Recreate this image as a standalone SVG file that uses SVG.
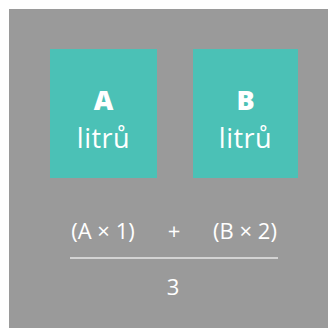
<svg xmlns="http://www.w3.org/2000/svg" width="328" height="328" viewBox="0 0 328 328">
<style>
.box{fill:#4bc1b6}
.t{fill:#ffffff;font-family:"Open Sans","Noto Sans",sans-serif;text-anchor:middle}
.big{font-size:27px;font-weight:800}
.lit{font-size:27px;letter-spacing:0.5px}
.f{font-size:22px}
</style>
<rect x="0" y="0" width="328" height="328" fill="#ffffff"/>
<rect x="9" y="9" width="319" height="319" fill="#9a9a9a"/>
<g id="nodeA">
<rect class="box" x="50" y="49" width="107" height="129"/>
<text class="t big" x="103.5" y="110">A</text>
<text class="t lit" x="103.5" y="148">litrů</text>
</g>
<g id="nodeB">
<rect class="box" x="193" y="49" width="105" height="129"/>
<text class="t big" x="245.5" y="110">B</text>
<text class="t lit" x="245.5" y="148">litrů</text>
</g>
<g id="formula">
<text class="t f" x="103" y="239">(A × 1)</text>
<text class="t f" x="174" y="239">+</text>
<text class="t f" x="245" y="239">(B × 2)</text>
<line x1="70" y1="258" x2="278" y2="258" stroke="#e6e6e6" stroke-width="1.5"/>
<text class="t f" x="173" y="295">3</text>
</g>
</svg>
